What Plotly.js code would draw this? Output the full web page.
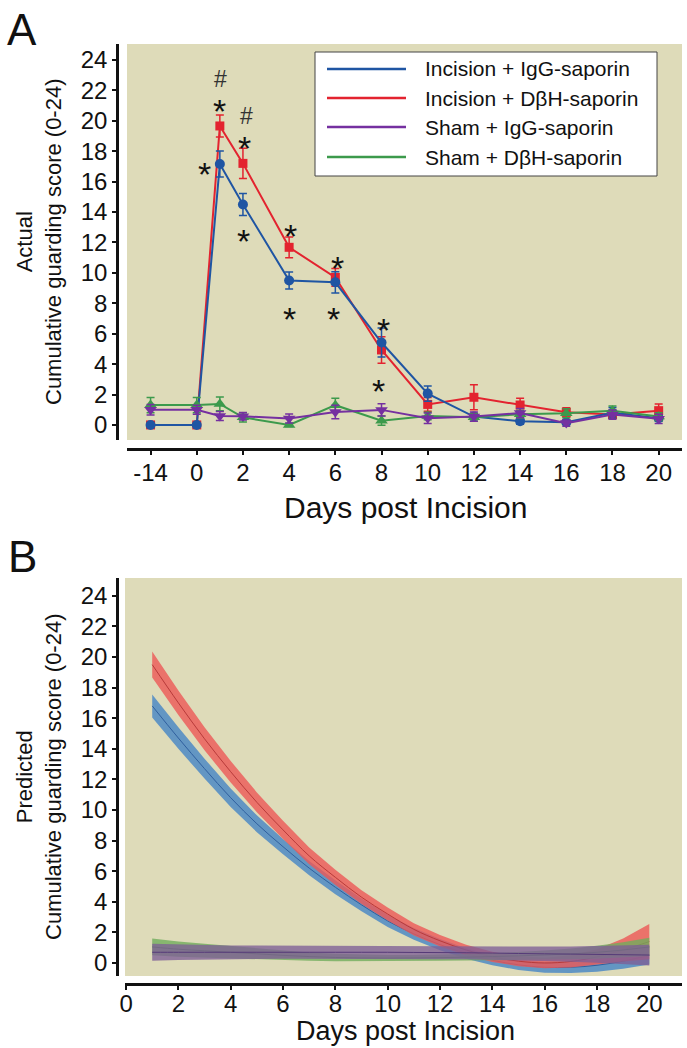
<!DOCTYPE html>
<html>
<head>
<meta charset="utf-8">
<script src="https://cdn.plot.ly/plotly-3.0.1.min.js"></script>
<style>
  html, body { margin: 0; padding: 0; background: #fff; }
  #chart { width: 687px; height: 1048px; }
</style>
</head>
<body>
<div id="chart"></div>
<script>
// Panel A: observed guarding scores (mean ± SEM)
const daysA = [-14, 0, 1, 2, 4, 6, 8, 10, 12, 14, 16, 18, 20];
const tickDaysA = [-14, 0, 2, 4, 6, 8, 10, 12, 14, 16, 18, 20];

const incIgg = [0, 0, 17.16, 14.5, 9.5, 9.38, 5.42, 2.06, 0.55, 0.25, 0.18, 0.8, 0.44];
const incIggErr = [0, 0, 0.85, 0.72, 0.56, 0.7, 0.95, 0.5, 0.2, 0.2, 0.15, 0.35, 0.2];
const incDbh = [0, 0, 19.66, 17.2, 11.68, 9.7, 4.93, 1.35, 1.82, 1.31, 0.83, 0.68, 0.94];
const incDbhErr = [0, 0, 0.72, 1.0, 0.68, 0.58, 0.87, 0.45, 0.82, 0.44, 0.3, 0.2, 0.44];
const shamIgg = [1.0, 1.0, 0.59, 0.57, 0.42, 0.85, 0.99, 0.44, 0.55, 0.78, 0.12, 0.68, 0.4];
const shamIggErr = [0.35, 0.3, 0.3, 0.25, 0.3, 0.45, 0.4, 0.35, 0.3, 0.3, 0.2, 0.3, 0.3];
const shamDbh = [1.31, 1.31, 1.38, 0.5, 0.0, 1.3, 0.28, 0.59, 0.5, 0.7, 0.77, 0.94, 0.55];
const shamDbhErr = [0.5, 0.5, 0.45, 0.3, 0.1, 0.45, 0.3, 0.25, 0.25, 0.25, 0.3, 0.3, 0.25];

// significance marks (day, score)
const starDays = [1, 0.32, 2.06, 2.02, 4.07, 6.09, 4.01, 5.94, 8.08, 7.88];
const starScores = [21.26, 17.09, 18.8, 12.67, 13.0, 10.9, 7.56, 7.56, 6.86, 2.81];
const hashDays = [1.04, 2.16];
const hashScores = [22.73, 20.3];

// Panel B: predicted scores, centre and half-width of band
const daysB = [1, 2, 3, 4, 5, 6, 7, 8, 9, 10, 11, 12, 13, 14, 15, 16, 17, 18, 19, 20];
const predIncDbh = [19.5, 17.0, 14.65, 12.5, 10.5, 8.7, 7.0, 5.6, 4.3, 3.2, 2.2, 1.45, 0.85, 0.4, 0.12, 0.0, 0.1, 0.4, 0.85, 1.4];
const predIncDbhHalf = [0.85, 0.8, 0.75, 0.7, 0.65, 0.6, 0.55, 0.5, 0.45, 0.42, 0.4, 0.38, 0.35, 0.33, 0.33, 0.35, 0.4, 0.5, 0.75, 1.15];
const predIncIgg = [16.8, 14.7, 12.7, 10.8, 9.1, 7.6, 6.2, 4.95, 3.8, 2.75, 1.9, 1.2, 0.62, 0.18, -0.12, -0.28, -0.28, -0.15, 0.12, 0.5];
const predIncIggHalf = [0.75, 0.7, 0.65, 0.6, 0.55, 0.5, 0.47, 0.45, 0.42, 0.4, 0.38, 0.36, 0.35, 0.33, 0.33, 0.35, 0.38, 0.42, 0.5, 0.6];
const predShamIgg = [0.7, 0.7, 0.7, 0.7, 0.7, 0.7, 0.7, 0.7, 0.7, 0.7, 0.69, 0.68, 0.67, 0.65, 0.62, 0.6, 0.58, 0.56, 0.54, 0.52];
const predShamIggHalf = [0.55, 0.5, 0.47, 0.45, 0.44, 0.43, 0.43, 0.43, 0.43, 0.43, 0.43, 0.43, 0.43, 0.44, 0.45, 0.47, 0.5, 0.55, 0.6, 0.68];
const predShamDbh = [1.05, 0.9, 0.8, 0.7, 0.6, 0.5, 0.42, 0.36, 0.33, 0.32, 0.33, 0.35, 0.38, 0.42, 0.47, 0.52, 0.6, 0.7, 0.85, 1.05];
const predShamDbhHalf = [0.55, 0.5, 0.45, 0.4, 0.35, 0.3, 0.27, 0.24, 0.22, 0.2, 0.2, 0.2, 0.21, 0.22, 0.25, 0.3, 0.35, 0.42, 0.5, 0.6];

const groupNames = ['Incision + IgG-saporin', 'Incision + D\u03B2H-saporin', 'Sham + IgG-saporin', 'Sham + D\u03B2H-saporin'];
const lineColors = ['#1f55a3', '#e3232f', '#7530a0', '#3c9a4c'];

const W = 687, H = 1048;
const px = x => x / W;
const py = y => 1 - y / H;
const FONT = 'Liberation Sans, Arial, sans-serif';
const BG = '#dedbb9';

// -14 sits one step left of day 0 (axis break)
const posA = d => (d === -14 ? -2 : d);
const xA = daysA.map(posA);

const traces = [];

const seriesA = [
  { y: incDbh, err: incDbhErr, color: lineColors[1], symbol: 'square', size: 9 },
  { y: incIgg, err: incIggErr, color: lineColors[0], symbol: 'circle', size: 10 },
  { y: shamDbh, err: shamDbhErr, color: lineColors[3], symbol: 'triangle-up', size: 11 },
  { y: shamIgg, err: shamIggErr, color: lineColors[2], symbol: 'triangle-down', size: 11 },
];
seriesA.forEach(s => {
  traces.push({
    x: xA, y: s.y, type: 'scatter', mode: 'lines+markers', showlegend: false,
    line: { color: s.color, width: 2 },
    marker: { color: s.color, symbol: s.symbol, size: s.size },
    error_y: { type: 'data', array: s.err, color: s.color, thickness: 1.5, width: 4 },
    xaxis: 'x', yaxis: 'y',
  });
});

const seriesB = [
  { y: predIncIgg, half: predIncIggHalf, fill: 'rgba(78,138,196,0.85)', line: '#2f5f9e' },
  { y: predIncDbh, half: predIncDbhHalf, fill: 'rgba(236,88,86,0.8)', line: '#b83a3a' },
  { y: predShamDbh, half: predShamDbhHalf, fill: 'rgba(112,172,92,0.8)', line: '#4a8a3e' },
  { y: predShamIgg, half: predShamIggHalf, fill: 'rgba(125,95,150,0.78)', line: '#553a78' },
];
seriesB.forEach(s => {
  const upper = s.y.map((v, i) => v + s.half[i]);
  const lower = s.y.map((v, i) => v - s.half[i]);
  traces.push({
    x: daysB.concat([...daysB].reverse()),
    y: upper.concat([...lower].reverse()),
    type: 'scatter', mode: 'lines', fill: 'toself', fillcolor: s.fill,
    line: { width: 0 }, showlegend: false, hoverinfo: 'skip',
    xaxis: 'x2', yaxis: 'y2',
  });
  traces.push({
    x: daysB, y: s.y, type: 'scatter', mode: 'lines', showlegend: false,
    line: { color: s.line, width: 1, shape: 'spline' },
    xaxis: 'x2', yaxis: 'y2',
  });
});

const axisStyle = {
  showline: true, linecolor: '#111', linewidth: 2.5, mirror: false,
  ticks: 'outside', ticklen: 4, tickwidth: 1.5, tickcolor: '#111',
  showgrid: false, zeroline: false,
  tickfont: { family: FONT, size: 24, color: '#111' },
};

const annotations = [];
starDays.forEach((d, i) => annotations.push({
  x: d, y: starScores[i], xref: 'x', yref: 'y', text: '*', showarrow: false,
  font: { family: FONT, size: 34, color: '#111' }, yshift: -9,
}));
hashDays.forEach((d, i) => annotations.push({
  x: d, y: hashScores[i], xref: 'x', yref: 'y', text: '#', showarrow: false,
  font: { family: FONT, size: 23, color: '#333' },
}));

// panel letters and axis titles
const textAt = (x, y, text, size, extra) => Object.assign({
  x: px(x), y: py(y), xref: 'paper', yref: 'paper', text, showarrow: false,
  xanchor: 'center', yanchor: 'middle', font: { family: FONT, size, color: '#111' },
}, extra || {});
annotations.push(textAt(22, 29, 'A', 44));
annotations.push(textAt(22, 556, 'B', 44));
annotations.push(textAt(405, 507, 'Days post Incision', 30));
annotations.push(textAt(405, 1031, 'Days post Incision', 27));
annotations.push(textAt(39, 242, 'Actual<br>Cumulative guarding score (0-24)', 22, { textangle: -90 }));
annotations.push(textAt(39, 777, 'Predicted<br>Cumulative guarding score (0-24)', 22, { textangle: -90 }));

// legend box for panel A
const shapes = [{
  type: 'rect', xref: 'paper', yref: 'paper',
  x0: px(315), x1: px(657), y0: py(52), y1: py(176),
  fillcolor: '#ffffff', line: { color: '#444', width: 1 },
}];
const legendRows = [69, 98, 127, 157];
groupNames.forEach((name, i) => {
  shapes.push({
    type: 'line', xref: 'paper', yref: 'paper',
    x0: px(327), x1: px(406), y0: py(legendRows[i]), y1: py(legendRows[i]),
    line: { color: lineColors[i], width: 2.5 },
  });
  annotations.push(textAt(423, legendRows[i], name, 21, { xanchor: 'left' }));
});

const layout = {
  width: W, height: H,
  margin: { l: 0, r: 0, t: 0, b: 0 },
  paper_bgcolor: '#ffffff', plot_bgcolor: BG,
  showlegend: false,
  font: { family: FONT, color: '#111' },
  xaxis: {
    ...axisStyle, domain: [px(127), px(682)], range: [-3.02, 21.01],
    anchor: 'free', position: py(449), ticklabelstandoff: -3,
    tickvals: tickDaysA.map(posA), ticktext: tickDaysA.map(String),
  },
  yaxis: {
    ...axisStyle, domain: [py(440), py(44)], range: [-0.99, 25.05],
    anchor: 'free', position: px(117), tickvals: [0, 2, 4, 6, 8, 10, 12, 14, 16, 18, 20, 22, 24],
  },
  xaxis2: {
    ...axisStyle, domain: [px(125), px(682)], range: [-0.04, 21.25],
    anchor: 'free', position: py(984), ticklabelstandoff: -7,
    tickvals: [0, 2, 4, 6, 8, 10, 12, 14, 16, 18, 20],
  },
  yaxis2: {
    ...axisStyle, domain: [py(976), py(578)], range: [-0.85, 25.16],
    anchor: 'free', position: px(117), tickvals: [0, 2, 4, 6, 8, 10, 12, 14, 16, 18, 20, 22, 24],
  },
  shapes, annotations,
};

Plotly.newPlot('chart', traces, layout, { displayModeBar: false, responsive: false });
</script>
</body>
</html>
